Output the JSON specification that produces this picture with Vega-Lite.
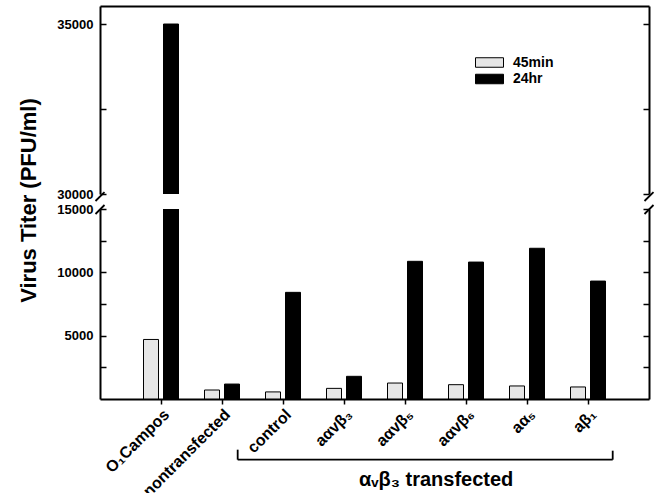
{
  "$schema": "https://vega.github.io/schema/vega-lite/v6.json",
  "padding": {"left": 16, "top": 6, "right": 5, "bottom": 5},
  "background": "white",
  "bounds": "flush",
  "config": {
    "view": {"stroke": null},
    "font": "Liberation Sans",
    "axis": {"domainColor": "black", "domainWidth": 2, "tickColor": "black", "tickWidth": 1.5, "labelColor": "black", "labelFont": "Liberation Sans", "labelFontWeight": "bold", "labelFontSize": 13, "grid": false, "titleColor": "black", "titleFont": "Liberation Sans"}
  },
  "datasets": {
    "titers": [
      {"cat": "O₁Campos", "time": "45min", "titer": 4700},
      {"cat": "O₁Campos", "time": "24hr", "titer": 35000},
      {"cat": "nontransfected", "time": "45min", "titer": 710},
      {"cat": "nontransfected", "time": "24hr", "titer": 1180},
      {"cat": "control", "time": "45min", "titer": 560},
      {"cat": "control", "time": "24hr", "titer": 8420},
      {"cat": "aαvβ₃", "time": "45min", "titer": 840},
      {"cat": "aαvβ₃", "time": "24hr", "titer": 1790},
      {"cat": "aαvβ₅", "time": "45min", "titer": 1260},
      {"cat": "aαvβ₅", "time": "24hr", "titer": 10870},
      {"cat": "aαvβ₆", "time": "45min", "titer": 1130},
      {"cat": "aαvβ₆", "time": "24hr", "titer": 10810},
      {"cat": "aα₅", "time": "45min", "titer": 1030},
      {"cat": "aα₅", "time": "24hr", "titer": 11900},
      {"cat": "aβ₁", "time": "45min", "titer": 950},
      {"cat": "aβ₁", "time": "24hr", "titer": 9310}
    ],
    "rulesLow": [
      {"x": 2.257, "y": -4790, "x2": 8.405, "y2": -4790},
      {"x": 2.257, "y": -4790, "x2": 2.257, "y2": -4000},
      {"x": 8.405, "y": -4790, "x2": 8.405, "y2": -4080},
      {"x": -0.074, "y": 14605, "x2": 0.074, "y2": 15315},
      {"x": 8.926, "y": 14605, "x2": 9.074, "y2": 15315}
    ],
    "rulesUp": [
      {"x": -0.074, "y": 29794, "x2": 0.074, "y2": 30058},
      {"x": 8.926, "y": 29794, "x2": 9.074, "y2": 30058}
    ],
    "note": [{"x": 5.51, "y": -6870, "label": "αᵥβ₃ transfected"}]
  },
  "spacing": 15,
  "resolve": {"legend": {"color": "independent"}},
  "vconcat": [
    {
      "width": 549,
      "height": 188,
      "layer": [
        {
          "data": {"name": "titers"},
          "mark": {"type": "bar", "clip": true, "stroke": "black", "strokeWidth": 1},
          "encoding": {
            "x": {"field": "cat", "type": "nominal", "sort": ["O₁Campos", "nontransfected", "control", "aαvβ₃", "aαvβ₅", "aαvβ₆", "aα₅", "aβ₁"], "scale": {"paddingInner": 0, "paddingOuter": 0.5}, "axis": {"orient": "top", "labels": false, "ticks": false, "title": null}},
            "xOffset": {"field": "time", "type": "nominal", "sort": ["45min", "24hr"], "scale": {"paddingInner": 0.25, "paddingOuter": 0.65}},
            "y": {"field": "titer", "type": "quantitative", "scale": {"domain": [30000, 35530], "zero": false, "nice": false}, "axis": {"values": [30000, 32500, 35000], "labelExpr": "datum.value % 5000 == 0 ? datum.label : ''", "format": "d", "tickSize": -6, "labelPadding": 13, "title": null}},
            "color": {"field": "time", "type": "nominal", "sort": ["45min", "24hr"], "scale": {"domain": ["45min", "24hr"], "range": ["#e6e6e6", "black"]}, "legend": {"orient": "none", "legendX": 382, "legendY": 49, "title": null, "symbolType": "M-2,-0.68H2V0.68H-2Z", "symbolSize": 196, "symbolStrokeColor": "black", "symbolStrokeWidth": 1, "symbolOpacity": 1, "labelFontSize": 14, "labelFontWeight": "bold", "labelColor": "black", "labelFont": "Liberation Sans", "labelOffset": 16, "rowPadding": 1.5, "padding": 0}}
          }
        },
        {
          "data": {"name": "rulesUp"},
          "mark": {"type": "rule", "clip": false, "strokeWidth": 1.8, "color": "black"},
          "encoding": {
            "x": {"field": "x", "type": "quantitative", "scale": {"domain": [0, 9], "nice": false, "zero": false}, "axis": null},
            "x2": {"field": "x2"},
            "y": {"field": "y", "type": "quantitative", "scale": {"domain": [30000, 35530], "zero": false, "nice": false}, "axis": {"orient": "right", "values": [30000, 32500, 35000], "labels": false, "tickSize": -6, "title": null}},
            "y2": {"field": "y2"}
          }
        }
      ],
      "resolve": {"scale": {"x": "independent"}, "axis": {"x": "independent", "y": "independent"}}
    },
    {
      "width": 549,
      "height": 190,
      "layer": [
        {
          "data": {"name": "titers"},
          "mark": {"type": "bar", "clip": true, "stroke": "black", "strokeWidth": 1},
          "encoding": {
            "x": {"field": "cat", "type": "nominal", "sort": ["O₁Campos", "nontransfected", "control", "aαvβ₃", "aαvβ₅", "aαvβ₆", "aα₅", "aβ₁"], "scale": {"paddingInner": 0, "paddingOuter": 0.5}, "axis": {"orient": "bottom", "labelAngle": -45, "labelAlign": "right", "labelBaseline": "top", "labelFontSize": 16, "tickSize": 5, "labelPadding": 2, "title": null}},
            "xOffset": {"field": "time", "type": "nominal", "sort": ["45min", "24hr"], "scale": {"paddingInner": 0.25, "paddingOuter": 0.65}},
            "y": {"field": "titer", "type": "quantitative", "scale": {"domain": [0, 15000], "nice": false}, "axis": {"values": [2500, 5000, 7500, 10000, 12500, 15000], "labelExpr": "datum.value % 5000 == 0 ? datum.label : ''", "format": "d", "tickSize": -6, "labelPadding": 13, "title": "Virus Titer (PFU/ml)", "titleFontSize": 22, "titleFontWeight": "bold", "titleAngle": -90, "titleAlign": "center", "titleBaseline": "alphabetic", "titleX": -65, "titleY": -9}},
            "color": {"field": "time", "type": "nominal", "sort": ["45min", "24hr"], "scale": {"domain": ["45min", "24hr"], "range": ["#e6e6e6", "black"]}, "legend": null}
          }
        },
        {
          "data": {"name": "rulesLow"},
          "mark": {"type": "rule", "clip": false, "strokeWidth": 1.8, "color": "black"},
          "encoding": {
            "x": {"field": "x", "type": "quantitative", "scale": {"domain": [0, 9], "nice": false, "zero": false}, "axis": null},
            "x2": {"field": "x2"},
            "y": {"field": "y", "type": "quantitative", "scale": {"domain": [0, 15000], "nice": false}, "axis": {"orient": "right", "values": [2500, 5000, 7500, 10000, 12500, 15000], "labels": false, "tickSize": -6, "title": null}},
            "y2": {"field": "y2"}
          }
        },
        {
          "data": {"name": "note"},
          "mark": {"type": "text", "clip": false, "font": "Liberation Sans", "fontWeight": "bold", "fontSize": 20, "align": "center", "baseline": "alphabetic", "color": "black"},
          "encoding": {
            "x": {"field": "x", "type": "quantitative", "scale": {"domain": [0, 9], "nice": false, "zero": false}, "axis": null},
            "y": {"field": "y", "type": "quantitative", "scale": {"domain": [0, 15000], "nice": false}, "axis": null},
            "text": {"field": "label"}
          }
        }
      ],
      "resolve": {"scale": {"x": "independent"}, "axis": {"x": "independent", "y": "independent"}}
    }
  ]
}
